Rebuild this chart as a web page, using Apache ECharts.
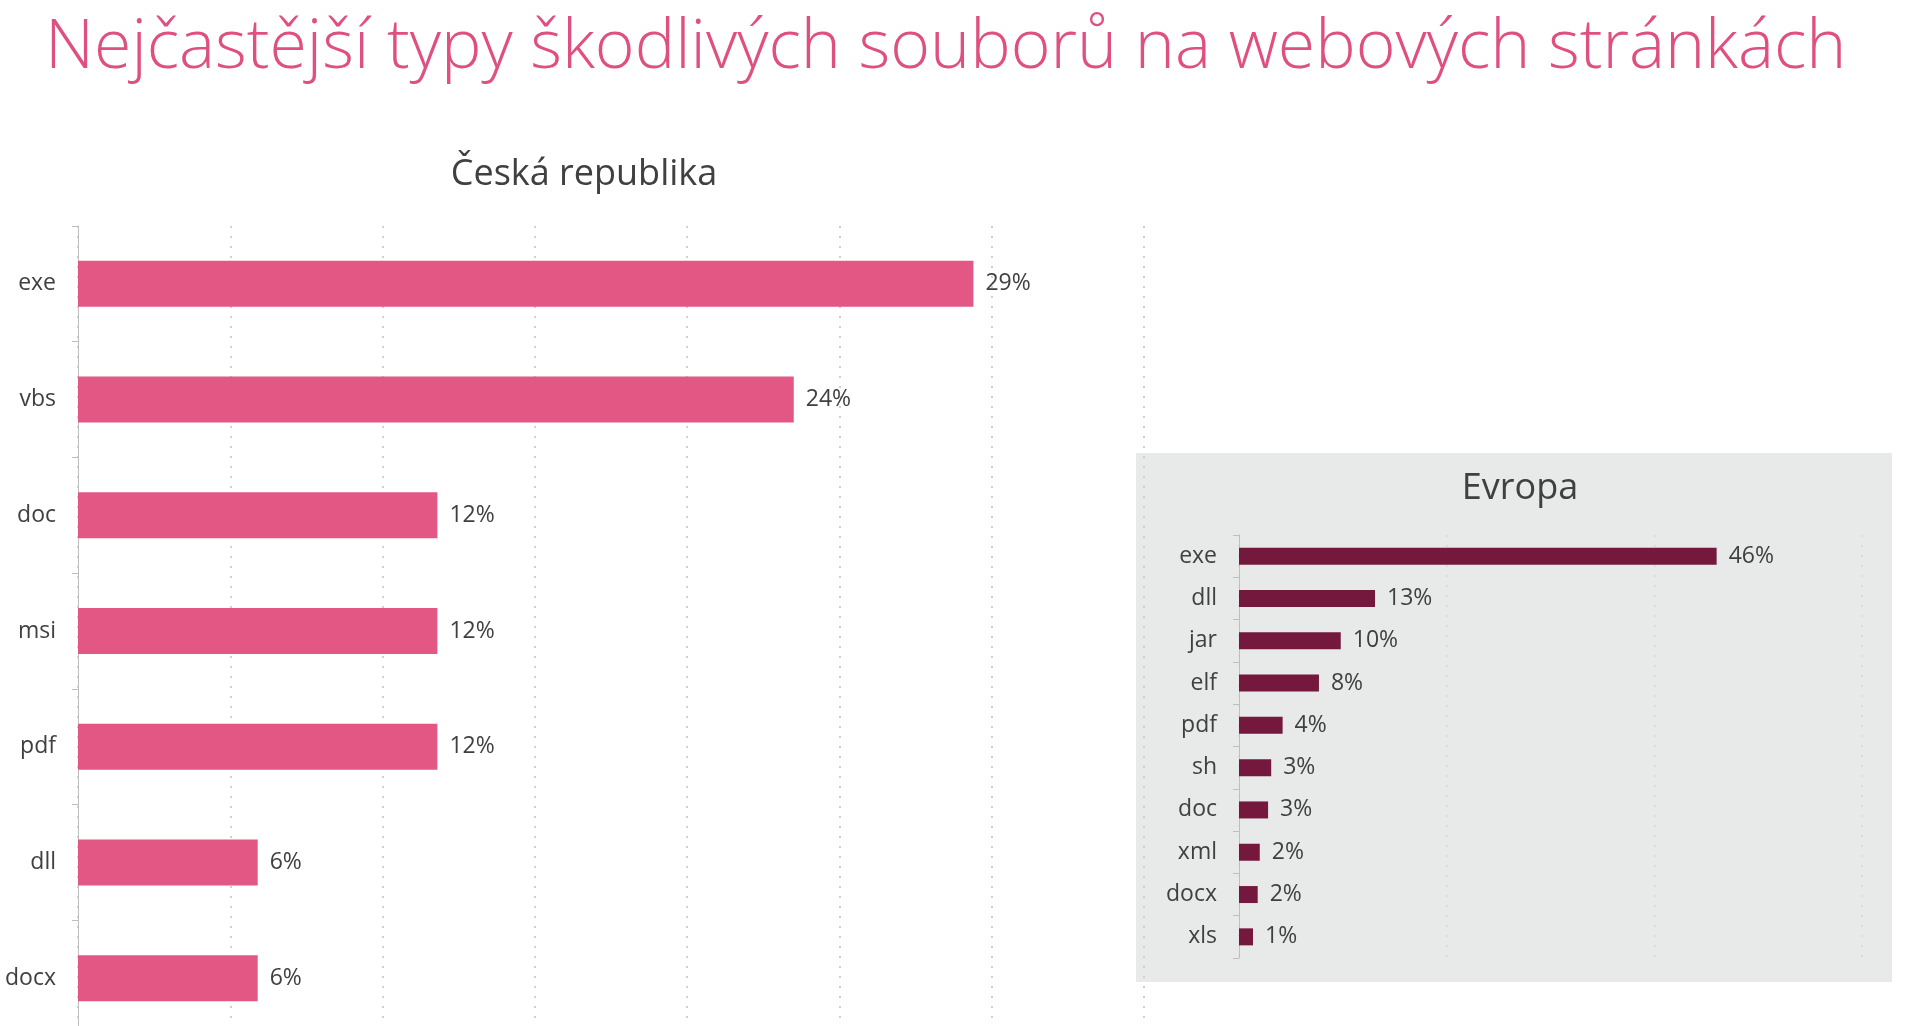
<!DOCTYPE html>
<html><head><meta charset="utf-8">
<script src="https://cdn.jsdelivr.net/npm/echarts@6/dist/echarts.min.js"></script>
<style>html,body{margin:0;padding:0;background:#fff}#c{width:1920px;height:1026px}</style>
</head><body><div id="c"></div>
<script>
const czCategories = ['exe','vbs','doc','msi','pdf','dll','docx'];
const czValues = [29.4, 23.5, 11.8, 11.8, 11.8, 5.9, 5.9];
const euCategories = ['exe','dll','jar','elf','pdf','sh','doc','xml','docx','xls'];
const euValues = [46.0, 13.1, 9.8, 7.7, 4.2, 3.1, 2.8, 2.0, 1.8, 1.35];

const font = '"Open Sans", "Noto Sans", sans-serif';
const chart = echarts.init(document.getElementById('c'));
const pct = p => Math.round(p.value) + '%';
chart.setOption({
  backgroundColor: '#fff',
  graphic: [{type:'rect', shape:{x:1136,y:453,width:756,height:529}, style:{fill:'#E8E9E9'}, z:-10}],
  title: [
    {text:'Nejčastější typy škodlivých souborů na webových stránkách', left:40, top:10,
     textStyle:{fontFamily:font, fontWeight:300, fontSize:68, color:'#E0507F'}},
    {text:'Česká republika', left:579, top:152, textAlign:'center',
     textStyle:{fontFamily:font, fontWeight:400, fontSize:36, color:'#404040'}},
    {text:'Evropa', left:1515, top:466, textAlign:'center',
     textStyle:{fontFamily:font, fontWeight:400, fontSize:36, color:'#404040'}}
  ],
  grid: [
    {left:78, top:226, width:1066, height:810, outerBoundsMode:'none', containLabel:false},
    {left:1239, top:535, width:623, height:423, outerBoundsMode:'none', containLabel:false}
  ],
  xAxis: [
    {gridIndex:0, type:'value', min:0, max:35, interval:5, axisLabel:{show:false}, axisLine:{show:false}, axisTick:{show:false},
     splitLine:{lineStyle:{color:'#D0D0D0', type:[2,8], width:2}}},
    {gridIndex:1, type:'value', min:0, max:60, interval:20, axisLabel:{show:false}, axisLine:{show:false}, axisTick:{show:false},
     splitLine:{lineStyle:{color:'#D6D6D6', type:[2,8], width:1.5}}}
  ],
  yAxis: [
    {gridIndex:0, type:'category', data:czCategories, inverse:true,
     axisLine:{lineStyle:{color:'#BFBFBF'}}, axisTick:{show:true, lineStyle:{color:'#BFBFBF'}, length:6},
     axisLabel:{fontFamily:font, fontSize:23, color:'#404040', margin:22}},
    {gridIndex:1, type:'category', data:euCategories, inverse:true,
     axisLine:{lineStyle:{color:'#BFBFBF'}}, axisTick:{show:true, lineStyle:{color:'#BFBFBF'}, length:6},
     axisLabel:{fontFamily:font, fontSize:23, color:'#404040', margin:22}}
  ],
  series: [
    {type:'bar', xAxisIndex:0, yAxisIndex:0, data:czValues, barWidth:46,
     itemStyle:{color:'#E25783'}, label:{show:true, position:'right', distance:12, formatter:pct, fontFamily:font, fontSize:23, color:'#404040'}},
    {type:'bar', xAxisIndex:1, yAxisIndex:1, data:euValues, barWidth:17,
     itemStyle:{color:'#74193D'}, label:{show:true, position:'right', distance:12, formatter:pct, fontFamily:font, fontSize:23, color:'#404040'}}
  ]
});
</script></body></html>
